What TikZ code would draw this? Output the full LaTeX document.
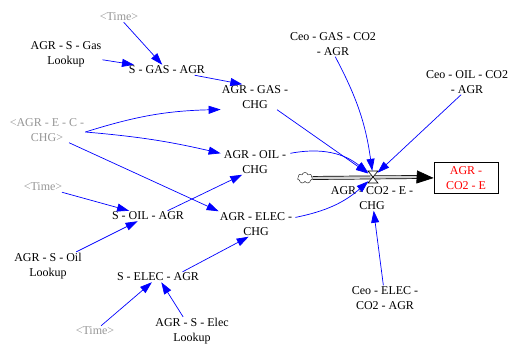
\documentclass[tikz,border=0pt]{standalone}
\usepackage{fontspec}
\setmainfont{Liberation Serif}
\usetikzlibrary{arrows.meta,shapes.symbols}

\definecolor{shadowgray}{RGB}{150,150,150}
\tikzset{
	var/.style={align=center, inner sep=1pt, font=\fontsize{12}{15}\selectfont},
	shadowvar/.style={var, text=shadowgray},
	link/.style={draw=blue, line width=0.7pt, -{Triangle[length=12pt,width=8pt]}},
	pipe/.style={double=gray!35, double distance=2.4pt, line width=0.7pt},
}

\begin{document}
\begin{tikzpicture}[x=1pt,y=1pt]
		\useasboundingbox (0,0) rectangle (513,-347);

		% variables
		\node[shadowvar] (time1) at (119,-17) {\textless Time\textgreater};
		\node[var] (gaslookup) at (66,-54) {AGR - S - Gas\\Lookup};
		\node[var] (sgas) at (167,-70) {S - GAS - AGR};
		\node[var] (gaschg) at (255,-97) {AGR - GAS -\\CHG};
		\node[var] (ceogas) at (333,-44) {Ceo - GAS - CO2\\- AGR};
		\node[var] (ceooil) at (467,-82) {Ceo - OIL - CO2\\- AGR};
		\node[shadowvar] (aecchg) at (47,-130) {\textless AGR - E - C -\\CHG\textgreater};
		\node[var] (oilchg) at (255,-162) {AGR - OIL -\\CHG};
		\node[shadowvar] (time2) at (43,-187) {\textless Time\textgreater};
		\node[var] (soil) at (148,-216) {S - OIL - AGR};
		\node[var] (elecchg) at (256,-224) {AGR - ELEC -\\CHG};
		\node[var] (oillookup) at (48,-266) {AGR - S - Oil\\Lookup};
		\node[var] (selec) at (158,-277) {S - ELEC - AGR};
		\node[shadowvar] (time3) at (95,-331) {\textless Time\textgreater};
		\node[var] (eleclookup) at (192,-331) {AGR - S - Elec\\Lookup};
		\node[var] (ceoelec) at (385,-298) {Ceo - ELEC -\\CO2 - AGR};

		% stock and flow
		\node[var, draw, line width=0.7pt, text=red, minimum width=64pt, minimum height=31pt] (stock) at (466,-178) {AGR -\\CO2 - E};
		\node[cloud, draw, cloud puffs=7, aspect=1.4, minimum width=15pt, minimum height=11pt, inner sep=0pt] (cloud) at (305,-178) {};
		\node[circle, minimum size=12pt, inner sep=0pt] (valve) at (373,-177) {};
		\coordinate (pipeend) at (417,-177);
		\draw[pipe] (cloud.east) -- (pipeend);
		\draw[line width=0.7pt, -{Triangle[length=17pt,width=13pt]}] (pipeend) -- (stock.west);
		\draw[fill=white, line width=0.6pt] (valve.center) ++(-5,6) -- ++(10,-12) -- ++(-10,0) -- ++(10,12) -- cycle;
		\node[var] (flowlbl) at (372,-198) {AGR - CO2 - E -\\CHG};

		% links
		\draw[link] (time1) -- (sgas);
		\draw[link] (gaslookup) -- (sgas);
		\draw[link] (sgas) -- (gaschg.135);
		\draw[link] ([yshift=-2pt]aecchg.east) to[bend left=8] (gaschg.200);
		\draw[link] ([yshift=-2pt]aecchg.east) to[bend left=4] ([xshift=-2pt]oilchg.165);
		\draw[link] (aecchg.-30) -- (elecchg.north west);
		\draw[link] (time2) -- (soil);
		\draw[link] (oillookup) -- (soil);
		\draw[link] (soil.15) -- (oilchg.225);
		\draw[link] (selec.12) -- (elecchg.240);
		\draw[link] (time3) -- (selec);
		\draw[link] (eleclookup) -- (selec);
		\draw[link] (gaschg.-30) -- (valve);
		\draw[link] (ceogas.-80) to[bend left=10] (valve);
		\draw[link] (ceooil.-115) -- (valve);
		\draw[link] ([xshift=3pt]oilchg.15) to[bend left=25] (valve);
		\draw[link] ([xshift=2pt]elecchg.10) to[bend right=15] (valve);
		\draw[link] (ceoelec) -- (flowlbl);
	\end{tikzpicture}
\end{document}
